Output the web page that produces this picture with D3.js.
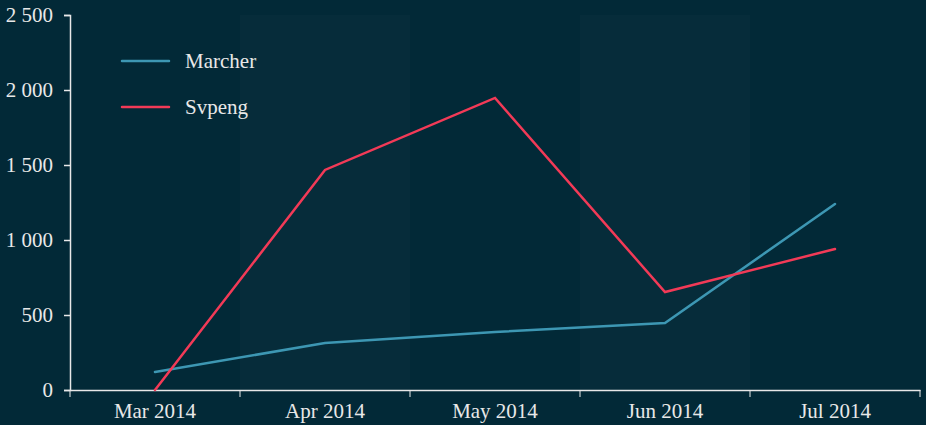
<!DOCTYPE html>
<meta charset="utf-8">
<script src="https://d3js.org/d3.v7.min.js"></script>
<style>
  body { margin: 0; background: #022937; }
  text { font-family: "Liberation Serif", "Times New Roman", serif; }
</style>
<div id="chart"></div>
<script>

// data
var months = ["Mar 2014", "Apr 2014", "May 2014", "Jun 2014", "Jul 2014"];
var marcher = [120, 313, 387, 447, 1240];
var svpeng = [0, 1467, 1947, 653, 940];
var yTicks = [0, 500, 1000, 1500, 2000, 2500];

var W = 926, H = 425;
var margin = {top: 15, right: 6, bottom: 35, left: 70},
    width = W - margin.left - margin.right,
    height = H - margin.top - margin.bottom;

var svg = d3.select("#chart").append("svg")
    .attr("width", W).attr("height", H)
    .style("background", "#022937");

var g = svg.append("g")
    .attr("transform", "translate(" + margin.left + "," + margin.top + ")");

var x = d3.scaleBand().domain(months).range([0, width]);
var y = d3.scaleLinear().domain([0, 2500]).range([height, 0]);

// alternating bands
g.selectAll("rect.band")
  .data(months.filter(function(d, i) { return i % 2 == 1; }))
  .enter().append("rect")
    .attr("x", function(d) { return x(d); })
    .attr("y", 0)
    .attr("width", x.bandwidth())
    .attr("height", height)
    .attr("fill", "#062c3a");

// y axis
var yAxis = g.append("g")
  .call(d3.axisLeft(y).tickValues(yTicks).tickSize(6).tickPadding(11)
    .tickFormat(function(d) { return d3.format(",")(d).replace(",", " "); }));
yAxis.selectAll("text").style("font-size", "21px").attr("fill", "#e8e8e8");

// x axis, ticks sit on the band edges
var xAxis = g.append("g")
  .attr("transform", "translate(0," + height + ")")
  .call(d3.axisBottom(x).tickSize(0).tickPadding(13));
xAxis.selectAll("text").style("font-size", "21px").attr("fill", "#e8e8e8");
xAxis.selectAll(".edge")
  .data(d3.range(months.length + 1))
  .enter().append("line")
    .attr("x1", function(i) { return i * x.bandwidth(); })
    .attr("x2", function(i) { return i * x.bandwidth(); })
    .attr("y1", 0).attr("y2", 7)
    .attr("stroke", "#e8e8e8");

svg.selectAll(".domain, .tick line").attr("stroke", "#e8e8e8").attr("stroke-width", 1.5);

// lines
var series = [
  {name: "Marcher", values: marcher, color: "#3d97b3"},
  {name: "Svpeng", values: svpeng, color: "#f23a57"}
];

var line = d3.line()
  .x(function(d, i) { return x(months[i]) + x.bandwidth() / 2; })
  .y(function(d) { return y(d); });

g.selectAll("path.series")
  .data(series)
  .enter().append("path")
    .attr("fill", "none")
    .attr("stroke", function(d) { return d.color; })
    .attr("stroke-width", 2.5)
    .attr("stroke-linecap", "round")
    .attr("d", function(d) { return line(d.values); });

// legend
var legend = svg.selectAll("g.legend")
  .data(series)
  .enter().append("g")
    .attr("transform", function(d, i) { return "translate(122," + (61 + i * 46) + ")"; });
legend.append("line")
  .attr("x1", 0).attr("x2", 47)
  .attr("stroke", function(d) { return d.color; })
  .attr("stroke-width", 2.5)
  .attr("stroke-linecap", "round");
legend.append("text")
  .attr("x", 63).attr("dy", "0.32em")
  .style("font-size", "21px")
  .attr("fill", "#e8e8e8")
  .text(function(d) { return d.name; });

</script>
